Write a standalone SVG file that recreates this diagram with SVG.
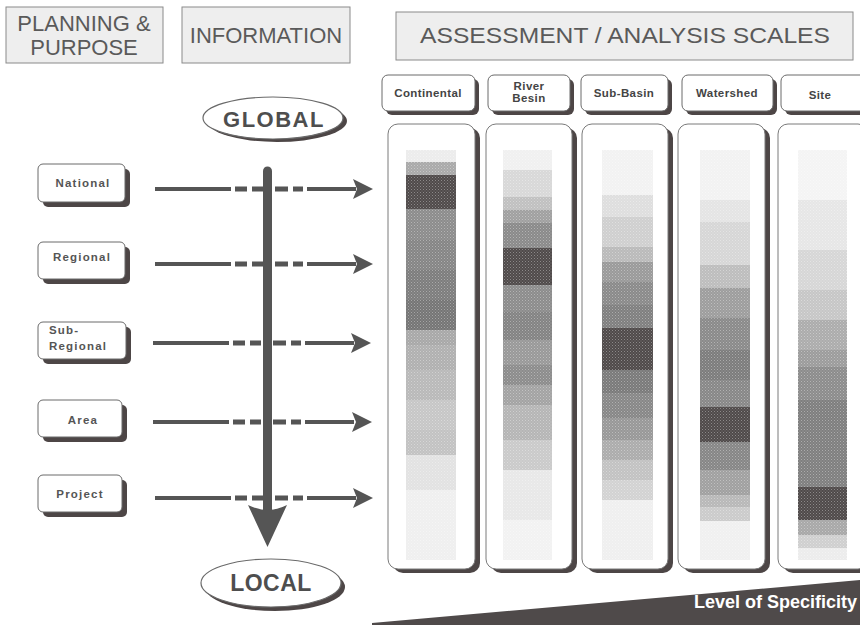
<svg xmlns="http://www.w3.org/2000/svg" width="860" height="626" viewBox="0 0 860 626">
  <defs>
    <style>
      .hdr { fill: #eeeeee; stroke: #8a8a8a; stroke-width: 1; }
      .hdrtxt { font-family: "Liberation Sans", Arial, sans-serif; font-size: 22px; fill: #5a5a5a; text-anchor: middle; }
      .lvl { fill: #ffffff; stroke: #6a6a6a; stroke-width: 1; }
      .shadow { fill: #4d4646; }
      .lvltxt { font-family: "Liberation Sans", Arial, sans-serif; font-size: 11.5px; font-weight: bold; fill: #555555; letter-spacing: 1.2px; }
      .scaletxt { font-family: "Liberation Sans", Arial, sans-serif; font-size: 11.5px; font-weight: bold; fill: #444444; text-anchor: middle; letter-spacing: 0.4px; }
      .panel { fill: #ffffff; stroke: #7a7a7a; stroke-width: 1; }
      .oval { fill: #ffffff; stroke: #6a6a6a; stroke-width: 1.2; }
      .ovaltxt { font-family: "Liberation Sans", Arial, sans-serif; font-weight: bold; fill: #4e4e4e; text-anchor: middle; }
      .flow { stroke: #555555; stroke-width: 4; fill: none; }
      .dash { stroke: #555555; stroke-width: 5; fill: none; }
      .head { fill: #555555; }
    </style>
    <!-- halftone stipple laid over the tonal bands -->
    <pattern id="dots" width="3" height="3" patternUnits="userSpaceOnUse">
      <rect x="0" y="0" width="1" height="1" fill="#ffffff" opacity="0.35"/>
      <rect x="1.5" y="1.5" width="1" height="1" fill="#ffffff" opacity="0.25"/>
    </pattern>
  </defs>

  <rect x="0" y="0" width="860" height="626" fill="#ffffff"/>

  <!-- column headings -->
  <g id="hdr-planning">
    <rect class="hdr" x="6" y="7" width="157" height="56"/>
    <text class="hdrtxt" x="84" y="31">PLANNING &amp;</text>
    <text class="hdrtxt" x="84" y="55">PURPOSE</text>
  </g>
  <g id="hdr-information">
    <rect class="hdr" x="182" y="7" width="168" height="56"/>
    <text class="hdrtxt" x="266" y="43">INFORMATION</text>
  </g>
  <g id="hdr-scales">
    <rect class="hdr" x="396" y="12" width="457" height="48"/>
    <text class="hdrtxt" x="625" y="43" textLength="410" lengthAdjust="spacingAndGlyphs">ASSESSMENT / ANALYSIS  SCALES</text>
  </g>

  <!-- scale labels -->
  <g id="scale-continental">
    <rect class="shadow" x="386" y="79" width="93" height="36" rx="6"/>
    <rect class="lvl" x="382" y="75" width="93" height="36" rx="6"/>
    <text class="scaletxt" x="428" y="97">Continental</text>
  </g>
  <g id="scale-riverbasin">
    <rect class="shadow" x="492" y="79" width="82" height="36" rx="6"/>
    <rect class="lvl" x="488" y="75" width="82" height="36" rx="6"/>
    <text class="scaletxt" x="529" y="90">River</text>
    <text class="scaletxt" x="529" y="102">Besin</text>
  </g>
  <g id="scale-subbasin">
    <rect class="shadow" x="585" y="79" width="87" height="36" rx="6"/>
    <rect class="lvl" x="581" y="75" width="87" height="36" rx="6"/>
    <text class="scaletxt" x="624" y="97">Sub-Basin</text>
  </g>
  <g id="scale-watershed">
    <rect class="shadow" x="686" y="79" width="91" height="36" rx="6"/>
    <rect class="lvl" x="682" y="75" width="91" height="36" rx="6"/>
    <text class="scaletxt" x="727" y="97">Watershed</text>
  </g>
  <g id="scale-site">
    <rect class="shadow" x="785" y="79" width="90" height="36" rx="6"/>
    <rect class="lvl" x="781" y="75" width="90" height="36" rx="6"/>
    <text class="scaletxt" x="820" y="99">Site</text>
  </g>

  <!-- tonal columns -->
  <g id="col-continental">
    <rect class="shadow" x="393" y="128" width="87" height="445" rx="10"/>
    <rect class="panel" x="388" y="124" width="87" height="445" rx="10"/>
    <g>
      <rect x="406" y="150" width="50" height="12" fill="#ececec"/>
      <rect x="406" y="162" width="50" height="13" fill="#a9a9a9"/>
      <rect x="406" y="175" width="50" height="34" fill="#4f4a4a"/>
      <rect x="406" y="209" width="50" height="31" fill="#8c8c8c"/>
      <rect x="406" y="240" width="50" height="30" fill="#858585"/>
      <rect x="406" y="270" width="50" height="30" fill="#7d7d7d"/>
      <rect x="406" y="300" width="50" height="30" fill="#757575"/>
      <rect x="406" y="330" width="50" height="15" fill="#a8a8a8"/>
      <rect x="406" y="345" width="50" height="25" fill="#b0b0b0"/>
      <rect x="406" y="370" width="50" height="30" fill="#b9b9b9"/>
      <rect x="406" y="400" width="50" height="30" fill="#c6c6c6"/>
      <rect x="406" y="430" width="50" height="25" fill="#c2c2c2"/>
      <rect x="406" y="455" width="50" height="35" fill="#e2e2e2"/>
      <rect x="406" y="490" width="50" height="70" fill="#efefef"/>
      <rect x="406" y="150" width="50" height="410" fill="url(#dots)"/>
    </g>
  </g>
  <g id="col-riverbasin">
    <rect class="shadow" x="491" y="128" width="86" height="445" rx="10"/>
    <rect class="panel" x="486" y="124" width="86" height="445" rx="10"/>
    <g>
      <rect x="503" y="150" width="49" height="20" fill="#f0f0f0"/>
      <rect x="503" y="170" width="49" height="27" fill="#d8d8d8"/>
      <rect x="503" y="197" width="49" height="13" fill="#c0c0c0"/>
      <rect x="503" y="210" width="49" height="13" fill="#a0a0a0"/>
      <rect x="503" y="223" width="49" height="25" fill="#8a8a8a"/>
      <rect x="503" y="248" width="49" height="37" fill="#4f4a4a"/>
      <rect x="503" y="285" width="49" height="27" fill="#8c8c8c"/>
      <rect x="503" y="312" width="49" height="28" fill="#838383"/>
      <rect x="503" y="340" width="49" height="25" fill="#999999"/>
      <rect x="503" y="365" width="49" height="20" fill="#8c8c8c"/>
      <rect x="503" y="385" width="49" height="20" fill="#a3a3a3"/>
      <rect x="503" y="405" width="49" height="35" fill="#b5b5b5"/>
      <rect x="503" y="440" width="49" height="30" fill="#cacaca"/>
      <rect x="503" y="470" width="49" height="50" fill="#e8e8e8"/>
      <rect x="503" y="520" width="49" height="40" fill="#f2f2f2"/>
      <rect x="503" y="150" width="49" height="410" fill="url(#dots)"/>
    </g>
  </g>
  <g id="col-subbasin">
    <rect class="shadow" x="587" y="128" width="86" height="445" rx="10"/>
    <rect class="panel" x="582" y="124" width="86" height="445" rx="10"/>
    <g>
      <rect x="602" y="150" width="51" height="45" fill="#f2f2f2"/>
      <rect x="602" y="195" width="51" height="22" fill="#dedede"/>
      <rect x="602" y="217" width="51" height="30" fill="#cfcfcf"/>
      <rect x="602" y="247" width="51" height="15" fill="#bababa"/>
      <rect x="602" y="262" width="51" height="20" fill="#9a9a9a"/>
      <rect x="602" y="282" width="51" height="23" fill="#8a8a8a"/>
      <rect x="602" y="305" width="51" height="23" fill="#7f7f7f"/>
      <rect x="602" y="328" width="51" height="42" fill="#4f4a4a"/>
      <rect x="602" y="370" width="51" height="23" fill="#7a7a7a"/>
      <rect x="602" y="393" width="51" height="25" fill="#878787"/>
      <rect x="602" y="418" width="51" height="22" fill="#989898"/>
      <rect x="602" y="440" width="51" height="20" fill="#acacac"/>
      <rect x="602" y="460" width="51" height="20" fill="#c2c2c2"/>
      <rect x="602" y="480" width="51" height="20" fill="#d2d2d2"/>
      <rect x="602" y="500" width="51" height="60" fill="#efefef"/>
      <rect x="602" y="150" width="51" height="410" fill="url(#dots)"/>
    </g>
  </g>
  <g id="col-watershed">
    <rect class="shadow" x="683" y="128" width="87" height="445" rx="10"/>
    <rect class="panel" x="678" y="124" width="87" height="445" rx="10"/>
    <g>
      <rect x="700" y="150" width="50" height="50" fill="#f2f2f2"/>
      <rect x="700" y="200" width="50" height="22" fill="#e4e4e4"/>
      <rect x="700" y="222" width="50" height="43" fill="#d6d6d6"/>
      <rect x="700" y="265" width="50" height="23" fill="#bdbdbd"/>
      <rect x="700" y="288" width="50" height="30" fill="#9d9d9d"/>
      <rect x="700" y="318" width="50" height="32" fill="#8a8a8a"/>
      <rect x="700" y="350" width="50" height="30" fill="#7c7c7c"/>
      <rect x="700" y="380" width="50" height="27" fill="#878787"/>
      <rect x="700" y="407" width="50" height="35" fill="#4f4a4a"/>
      <rect x="700" y="442" width="50" height="28" fill="#868686"/>
      <rect x="700" y="470" width="50" height="25" fill="#a0a0a0"/>
      <rect x="700" y="495" width="50" height="12" fill="#b8b8b8"/>
      <rect x="700" y="507" width="50" height="14" fill="#cbcbcb"/>
      <rect x="700" y="521" width="50" height="39" fill="#f0f0f0"/>
      <rect x="700" y="150" width="50" height="410" fill="url(#dots)"/>
    </g>
  </g>
  <g id="col-site">
    <rect class="shadow" x="783" y="128" width="90" height="445" rx="10"/>
    <rect class="panel" x="778" y="124" width="90" height="445" rx="10"/>
    <g>
      <rect x="798" y="150" width="49" height="50" fill="#f4f4f4"/>
      <rect x="798" y="200" width="49" height="50" fill="#e6e6e6"/>
      <rect x="798" y="250" width="49" height="40" fill="#d6d6d6"/>
      <rect x="798" y="290" width="49" height="30" fill="#c6c6c6"/>
      <rect x="798" y="320" width="49" height="30" fill="#acacac"/>
      <rect x="798" y="350" width="49" height="17" fill="#9c9c9c"/>
      <rect x="798" y="367" width="49" height="33" fill="#8c8c8c"/>
      <rect x="798" y="400" width="49" height="30" fill="#7e7e7e"/>
      <rect x="798" y="430" width="49" height="57" fill="#7f7f7f"/>
      <rect x="798" y="487" width="49" height="33" fill="#4f4a4a"/>
      <rect x="798" y="520" width="49" height="15" fill="#a8a8a8"/>
      <rect x="798" y="535" width="49" height="13" fill="#cfcfcf"/>
      <rect x="798" y="548" width="49" height="12" fill="#ececec"/>
      <rect x="798" y="150" width="49" height="410" fill="url(#dots)"/>
    </g>
  </g>

  <!-- planning levels -->
  <g id="lvl-national">
    <rect class="shadow" x="43" y="169" width="87" height="38" rx="5"/>
    <rect class="lvl" x="38" y="164" width="87" height="38" rx="5"/>
    <text class="lvltxt" x="83" y="187" text-anchor="middle">National</text>
  </g>
  <g id="lvl-regional">
    <rect class="shadow" x="43" y="247" width="87" height="37" rx="5"/>
    <rect class="lvl" x="38" y="242" width="87" height="37" rx="5"/>
    <text class="lvltxt" x="82" y="261" text-anchor="middle">Regional</text>
  </g>
  <g id="lvl-subregional">
    <rect class="shadow" x="43" y="327" width="88" height="37" rx="5"/>
    <rect class="lvl" x="38" y="322" width="88" height="37" rx="5"/>
    <text class="lvltxt" x="49" y="334">Sub-</text>
    <text class="lvltxt" x="49" y="350">Regional</text>
  </g>
  <g id="lvl-area">
    <rect class="shadow" x="43" y="405" width="84" height="37" rx="5"/>
    <rect class="lvl" x="38" y="400" width="84" height="37" rx="5"/>
    <text class="lvltxt" x="83" y="424" text-anchor="middle">Area</text>
  </g>
  <g id="lvl-project">
    <rect class="shadow" x="43" y="480" width="84" height="37" rx="5"/>
    <rect class="lvl" x="38" y="475" width="84" height="37" rx="5"/>
    <text class="lvltxt" x="80" y="498" text-anchor="middle">Project</text>
  </g>

  <!-- global / local ends -->
  <g id="end-global">
    <ellipse class="shadow" cx="277" cy="121" rx="70" ry="21"/>
    <ellipse class="oval" cx="273" cy="118" rx="70" ry="21"/>
    <text class="ovaltxt" x="274" y="127" font-size="22" letter-spacing="1.5">GLOBAL</text>
  </g>
  <g id="end-local">
    <ellipse class="shadow" cx="275" cy="587" rx="70" ry="24"/>
    <ellipse class="oval" cx="271" cy="583" rx="70" ry="24"/>
    <text class="ovaltxt" x="271" y="591" font-size="23" letter-spacing="0.5">LOCAL</text>
  </g>

  <!-- connectors -->
  <g id="connectors">
    <g id="flow-national">
      <path class="flow" d="M155 189 H231 M307 189 H356"/>
      <path class="dash" d="M235 189 H247 M252 189 H263 M275 189 H288 M293 189 H303"/>
      <path class="head" d="M373 189 L353 179 L357 189 L353 199 Z"/>
    </g>
    <g id="flow-regional">
      <path class="flow" d="M155 264 H231 M307 264 H356"/>
      <path class="dash" d="M235 264 H247 M252 264 H263 M275 264 H288 M293 264 H303"/>
      <path class="head" d="M373 264 L353 254 L357 264 L353 274 Z"/>
    </g>
    <g id="flow-subregional">
      <path class="flow" d="M153 343 H229 M305 343 H354"/>
      <path class="dash" d="M233 343 H245 M250 343 H261 M273 343 H286 M291 343 H301"/>
      <path class="head" d="M371 343 L351 333 L355 343 L351 353 Z"/>
    </g>
    <g id="flow-area">
      <path class="flow" d="M153 422 H229 M305 422 H354"/>
      <path class="dash" d="M233 422 H245 M250 422 H261 M273 422 H286 M291 422 H301"/>
      <path class="head" d="M372 422 L352 412 L356 422 L352 432 Z"/>
    </g>
    <g id="flow-project">
      <path class="flow" d="M155 498 H231 M307 498 H356"/>
      <path class="dash" d="M235 498 H247 M252 498 H263 M275 498 H288 M293 498 H303"/>
      <path class="head" d="M373 498 L353 488 L357 498 L353 508 Z"/>
    </g>
    <g id="axis-global-local">
      <path d="M263 510 V171 a4.5 4.5 0 0 1 9 0 V510 Z" fill="#555555"/>
      <path class="head" d="M248 505 Q258 510 267.5 510 Q277 510 287 505 L267.5 547 Z"/>
    </g>
  </g>

  <!-- specificity wedge -->
  <g id="specificity">
    <polygon points="372,623 860,580 860,625 372,625" fill="#4f4a4a"/>
    <text x="857" y="608" font-family="Liberation Sans, Arial, sans-serif" font-size="18" font-weight="bold" fill="#ffffff" text-anchor="end">Level of Specificity</text>
  </g>
</svg>
